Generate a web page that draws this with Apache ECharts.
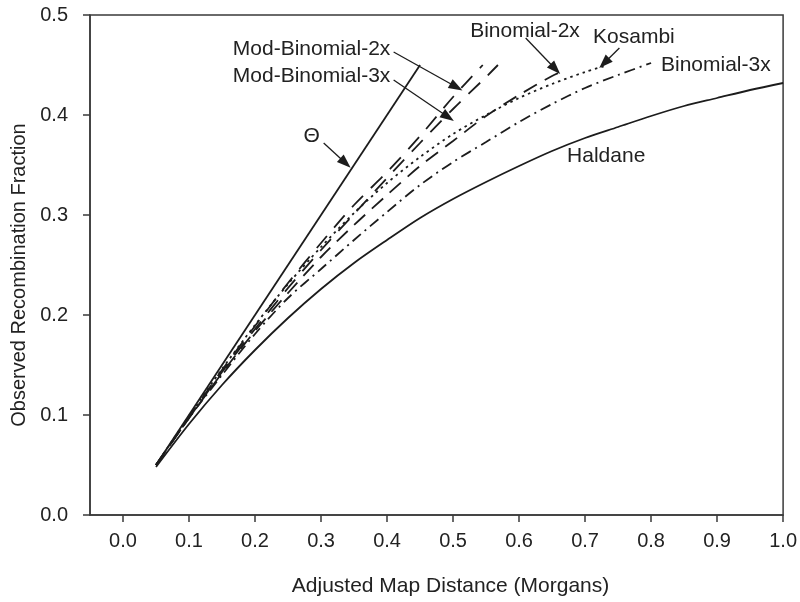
<!DOCTYPE html>
<html>
<head>
<meta charset="utf-8">
<title>Mapping functions</title>
<script src="https://cdn.jsdelivr.net/npm/echarts@6/dist/echarts.min.js"></script>
<style>
  html, body { margin: 0; padding: 0; background: #fff; }
  #chart { width: 800px; height: 602px; }
</style>
</head>
<body>
<div id="chart"></div>
<script>
// Tick labels
const distanceTicks = [0.0, 0.1, 0.2, 0.3, 0.4, 0.5, 0.6, 0.7, 0.8, 0.9, 1.0];
const fractionTicks = [0.0, 0.1, 0.2, 0.3, 0.4, 0.5];

// Theta (r = d)
const thetaD = [0.05, 0.45];
const thetaR = [0.05, 0.45];

// Haldane
const haldaneD = [0.05, 0.10, 0.15, 0.20, 0.25, 0.30, 0.35, 0.40, 0.45, 0.50, 0.55, 0.60, 0.65, 0.70, 0.75, 0.80, 0.85, 0.90, 0.95, 1.00];
const haldaneR = [0.048, 0.091, 0.130, 0.165, 0.197, 0.226, 0.252, 0.275, 0.297, 0.316, 0.333, 0.349, 0.364, 0.377, 0.388, 0.399, 0.409, 0.417, 0.425, 0.432];

// Kosambi
const kosambiD = [0.05, 0.10, 0.15, 0.20, 0.25, 0.30, 0.35, 0.40, 0.45, 0.50, 0.55, 0.60, 0.65, 0.70, 0.73];
const kosambiR = [0.050, 0.099, 0.146, 0.190, 0.231, 0.268, 0.302, 0.332, 0.358, 0.381, 0.400, 0.417, 0.431, 0.443, 0.449];

// Binomial-2x
const binom2D = [0.05, 0.10, 0.15, 0.20, 0.25, 0.30, 0.35, 0.40, 0.45, 0.50, 0.55, 0.60, 0.65, 0.67];
const binom2R = [0.050, 0.097, 0.142, 0.184, 0.222, 0.258, 0.290, 0.320, 0.349, 0.374, 0.399, 0.420, 0.439, 0.445];

// Binomial-3x
const binom3D = [0.05, 0.10, 0.15, 0.20, 0.25, 0.30, 0.35, 0.40, 0.45, 0.50, 0.55, 0.60, 0.65, 0.70, 0.75, 0.80];
const binom3R = [0.050, 0.097, 0.140, 0.181, 0.217, 0.246, 0.275, 0.303, 0.330, 0.353, 0.373, 0.393, 0.411, 0.427, 0.440, 0.452];

// Mod-Binomial-2x
const modBinom2D = [0.05, 0.10, 0.15, 0.20, 0.25, 0.30, 0.35, 0.40, 0.45, 0.50, 0.545];
const modBinom2R = [0.050, 0.098, 0.145, 0.189, 0.232, 0.272, 0.310, 0.343, 0.379, 0.418, 0.450];

// Mod-Binomial-3x
const modBinom3D = [0.05, 0.10, 0.15, 0.20, 0.25, 0.30, 0.35, 0.40, 0.45, 0.50, 0.55, 0.568];
const modBinom3R = [0.050, 0.097, 0.143, 0.186, 0.227, 0.265, 0.301, 0.337, 0.372, 0.406, 0.438, 0.450];

const zip = (xs, ys) => xs.map((x, i) => [x, ys[i]]);

const INK = '#1c1c1c';
const AXIS = '#3a3a3a';
const FONT = 'Liberation Sans, Arial, Helvetica, sans-serif';

function curve(name, d, r, dash, smooth) {
  return {
    name: name,
    type: 'line',
    data: zip(d, r),
    showSymbol: false,
    smooth: smooth,
    silent: true,
    lineStyle: { color: INK, width: 1.8, type: dash },
    z: 3
  };
}

// Pointer arrows from the curve labels, in data coordinates
const arrows = [
  [[0.410, 0.463], [0.505, 0.428]],  // Mod-Binomial-2x
  [[0.410, 0.435], [0.4925, 0.398]], // Mod-Binomial-3x
  [[0.304, 0.372], [0.337, 0.352]],  // Theta
  [[0.610, 0.477], [0.655, 0.446]],  // Binomial-2x
  [[0.752, 0.467], [0.729, 0.452]]   // Kosambi
];

// Curve labels: text, anchor (data coords), horizontal alignment
const curveLabels = [
  ['Mod-Binomial-2x', [0.405, 0.466], 'right'],
  ['Mod-Binomial-3x', [0.405, 0.439], 'right'],
  ['\u0398', [0.286, 0.379], 'center'],
  ['Binomial-2x', [0.609, 0.484], 'center'],
  ['Kosambi', [0.774, 0.478], 'center'],
  ['Binomial-3x', [0.815, 0.450], 'left'],
  ['Haldane', [0.732, 0.359], 'center']
];

const chart = echarts.init(document.getElementById('chart'), null, { renderer: 'canvas' });

const option = {
  animation: false,
  backgroundColor: '#ffffff',
  textStyle: { fontFamily: FONT },
  grid: {
    left: 90, right: 14, top: 15, bottom: 86,
    show: true, borderColor: AXIS, borderWidth: 1.5, backgroundColor: 'transparent'
  },
  xAxis: {
    type: 'value',
    min: -0.05,
    max: 1.0,
    name: 'Adjusted Map Distance (Morgans)',
    nameLocation: 'middle',
    nameGap: 61,
    nameTextStyle: { color: '#222', fontSize: 21, fontFamily: FONT, padding: [0, 0, 0, 28] },
    axisLine: { show: true, onZero: false, lineStyle: { color: AXIS, width: 1.5 } },
    axisTick: { show: true, length: 7, customValues: distanceTicks, lineStyle: { color: AXIS, width: 1.5 } },
    axisLabel: {
      customValues: distanceTicks,
      margin: 16,
      color: '#222',
      fontSize: 20,
      fontFamily: FONT,
      formatter: v => v.toFixed(1)
    },
    splitLine: { show: false }
  },
  yAxis: {
    type: 'value',
    min: 0,
    max: 0.5,
    interval: 0.1,
    name: 'Observed Recombination Fraction',
    nameLocation: 'middle',
    nameGap: 61,
    nameTextStyle: { color: '#222', fontSize: 20, fontFamily: FONT, padding: [0, 20, 0, 0] },
    axisLine: { show: true, onZero: false, lineStyle: { color: AXIS, width: 1.5 } },
    axisTick: { show: true, length: 7, lineStyle: { color: AXIS, width: 1.5 } },
    axisLabel: {
      customValues: fractionTicks,
      margin: 22,
      color: '#222',
      fontSize: 20,
      fontFamily: FONT,
      formatter: v => v.toFixed(1)
    },
    splitLine: { show: false }
  },
  series: [
    curve('Haldane', haldaneD, haldaneR, 'solid', 0.3),
    curve('Binomial-3x', binom3D, binom3R, [11, 5, 2, 5], 0.3),
    curve('Kosambi', kosambiD, kosambiR, [2.5, 4], 0.3),
    curve('Binomial-2x', binom2D, binom2R, [15, 9], 0.3),
    curve('Mod-Binomial-3x', modBinom3D, modBinom3R, [16, 11], 0.3),
    curve('Mod-Binomial-2x', modBinom2D, modBinom2R, [16, 11], 0.3),
    Object.assign(curve('\u0398', thetaD, thetaR, 'solid', false), {
      markLine: {
        silent: true,
        symbol: ['none', 'triangle'],
        symbolSize: [10, 14],
        label: { show: false },
        lineStyle: { color: INK, width: 1.3, type: 'solid' },
        data: arrows.map(a => [{ coord: a[0] }, { coord: a[1] }])
      }
    })
  ]
};

chart.setOption(option);

// Place the curve labels at their data anchors
chart.setOption({
  graphic: curveLabels.map(([text, at, align]) => {
    const p = chart.convertToPixel({ gridIndex: 0 }, at);
    return {
      type: 'text',
      x: p[0],
      y: p[1],
      silent: true,
      style: {
        text: text,
        fill: '#222',
        font: '21px ' + FONT,
        align: align,
        verticalAlign: 'middle'
      }
    };
  })
});
</script>
</body>
</html>
